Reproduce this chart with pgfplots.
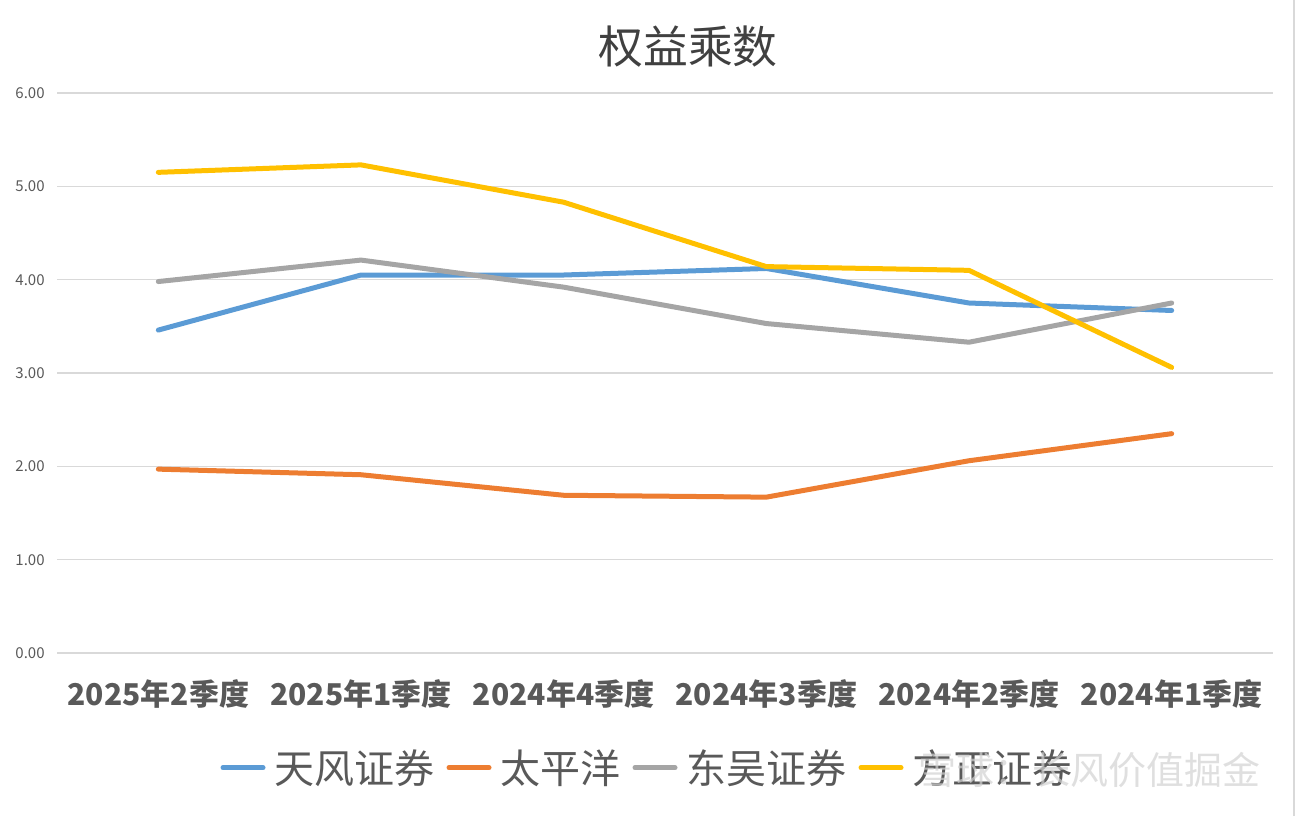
\documentclass[border=0pt]{standalone}
\usepackage{fontspec}
\setmainfont{Noto Sans CJK SC}
\usepackage{pgfplots}
\pgfplotsset{compat=1.18}

\definecolor{tfblue}{HTML}{5B9BD5}
\definecolor{tpyorange}{HTML}{ED7D31}
\definecolor{dwgray}{HTML}{A5A5A5}
\definecolor{fzyellow}{HTML}{FFC000}
\definecolor{gridgray}{HTML}{D9D9D9}
\definecolor{labelgray}{HTML}{595959}
\definecolor{titlegray}{HTML}{404040}

\begin{document}
\begin{tikzpicture}[x=1pt,y=1pt]
\useasboundingbox (0,0) rectangle (649.5,408);
\begin{axis}[
  at={(28.5pt,81.5pt)}, anchor=south west,
  scale only axis, width=608pt, height=280pt,
  xmin=-0.5, xmax=5.5, ymin=0, ymax=6,
  axis line style={draw=none},
  major tick length=0pt,
  ymajorgrids,
  grid style={color=gridgray, line width=0.75pt},
  xtick={0,1,2,3,4,5},
  xticklabels={2025年2季度,2025年1季度,2024年4季度,2024年3季度,2024年2季度,2024年1季度},
  xticklabel style={font=\bfseries\fontsize{15}{18}\selectfont, text=labelgray, inner sep=0pt, yshift=-13pt},
  ytick={0,1,2,3,4,5,6},
  yticklabel style={font=\fontsize{7.5}{9}\selectfont, text=labelgray, inner sep=0pt, xshift=-6pt,
    /pgf/number format/.cd, fixed, fixed zerofill, precision=2, assume math mode=true},
  legend columns=-1,
  legend style={at={(0.4848,-0.205)}, anchor=center, draw=none, fill=none,
    font=\fontsize{20}{24}\selectfont, text=labelgray, nodes={inner sep=0pt},
    /tikz/every odd column/.append style={column sep=4.5pt},
    /tikz/every even column/.append style={column sep=6pt}},
  legend image code/.code={\draw[#1] (0pt,0pt) -- (20pt,0pt);},
  every axis plot/.append style={line width=2.5pt, line join=round, line cap=round},
]
\addplot[tfblue] coordinates {(0,3.46) (1,4.05) (2,4.05) (3,4.12) (4,3.75) (5,3.67)};
\addlegendentry{天风证券}
\addplot[tpyorange] coordinates {(0,1.97) (1,1.91) (2,1.69) (3,1.67) (4,2.06) (5,2.35)};
\addlegendentry{太平洋}
\addplot[dwgray] coordinates {(0,3.98) (1,4.21) (2,3.92) (3,3.53) (4,3.33) (5,3.75)};
\addlegendentry{东吴证券}
\addplot[fzyellow] coordinates {(0,5.15) (1,5.23) (2,4.83) (3,4.14) (4,4.10) (5,3.06)};
\addlegendentry{方正证券}
\end{axis}
\node[font=\fontsize{22.4}{26}\selectfont, text=titlegray] at (344,384.5) {权益乘数};
\node[font=\fontsize{19}{22}\selectfont, text=gray!35, opacity=0.7] at (544.5,23) {雪球：长风价值掘金};
\draw[color=gridgray, line width=1pt] (647,0) -- (647,408);
\end{tikzpicture}
\end{document}
